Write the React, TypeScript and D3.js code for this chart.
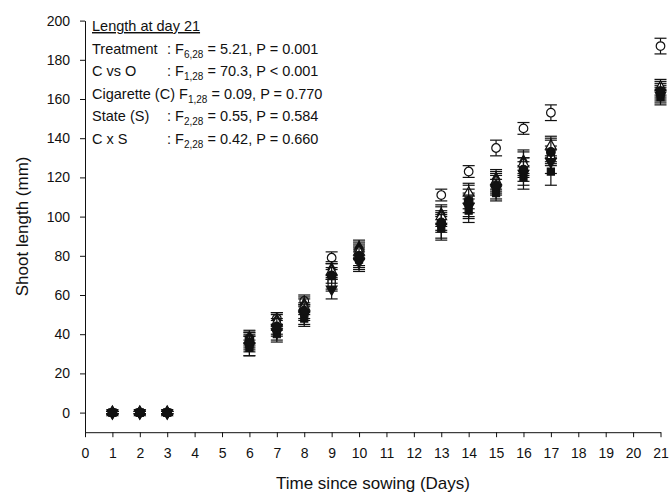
import React from "react";
import * as d3 from "d3";

const width = 670;
const height = 498;

// days on which shoot length was measured
const days = [1, 2, 3, 6, 7, 8, 9, 10, 13, 14, 15, 16, 17, 21];

// mean shoot length (mm) per treatment
const controlMean = [0, 0, 0, 38, 48, 57, 79, 83, 111, 123, 135, 145, 153, 187];
const controlSE = [0.6, 0.6, 0.6, 3, 3, 3, 3, 4, 3, 3, 4, 3, 4, 4];
const t1Mean = [0, 0, 0, 36, 44, 52, 70, 80, 97, 108, 116, 124, 133, 164];
const t1SE = [0.6, 0.6, 0.6, 4, 4, 4, 4, 5, 5, 6, 5, 6, 6, 4];
const t2Mean = [0, 0, 0, 34, 41, 50, 63, 77, 95, 105, 114, 122, 128, 162];
const t2SE = [0.6, 0.6, 0.6, 5, 4, 5, 5, 5, 6, 6, 5, 6, 6, 4];
const t3Mean = [0, 0, 0, 37, 46, 54, 72, 82, 100, 112, 118, 127, 136, 166];
const t3SE = [0.6, 0.6, 0.6, 4, 4, 4, 4, 4, 5, 5, 5, 6, 5, 4];
const t4Mean = [0, 0, 0, 33, 40, 48, 68, 78, 94, 103, 112, 120, 123, 161];
const t4SE = [0.6, 0.6, 0.6, 4, 4, 4, 5, 5, 6, 6, 4, 6, 7, 4];
const t5Mean = [0, 0, 0, 35, 43, 51, 66, 79, 98, 110, 117, 125, 131, 163];
const t5SE = [0.6, 0.6, 0.6, 4, 4, 4, 4, 5, 5, 6, 5, 5, 5, 4];
const t6Mean = [0, 0, 0, 38, 47, 55, 73, 84, 101, 106, 119, 128, 134, 165];
const t6SE = [0.6, 0.6, 0.6, 4, 4, 4, 4, 4, 5, 6, 5, 6, 6, 4];

const xTicks = d3.range(0, 22);
const yTicks = [0, 20, 40, 60, 80, 100, 120, 140, 160, 180, 200];

const statsLabels = ["Treatment", "C vs O", "Cigarette (C)", "State (S)", "C x S"];
const statsDf = ["6,28", "1,28", "1,28", "2,28", "2,28"];
const statsRest = [
  " = 5.21, P = 0.001",
  " = 70.3, P < 0.001",
  " = 0.09, P = 0.770",
  " = 0.55, P = 0.584",
  " = 0.42, P = 0.660",
];

// control drawn first, so the cigarette treatments sit on top where they overlap
const series = [
  { mean: controlMean, se: controlSE, shape: d3.symbolCircle, filled: false, rot: 0 },
  { mean: t4Mean, se: t4SE, shape: d3.symbolSquare, filled: true, rot: 0 },
  { mean: t5Mean, se: t5SE, shape: d3.symbolSquare, filled: false, rot: 0 },
  { mean: t6Mean, se: t6SE, shape: d3.symbolDiamond, filled: true, rot: 0 },
  { mean: t3Mean, se: t3SE, shape: d3.symbolTriangle, filled: false, rot: 0 },
  { mean: t2Mean, se: t2SE, shape: d3.symbolTriangle, filled: true, rot: 180 },
  { mean: t1Mean, se: t1SE, shape: d3.symbolCircle, filled: true, rot: 0 },
];

const x = d3.scaleLinear().domain([0, 21]).range([85, 660.5]);
const y = d3.scaleLinear().domain([-10, 200]).range([432.2, 20.6]);

const font = "'Liberation Sans', Arial, sans-serif";

export default function App() {
  const xAxisRef = React.useRef<SVGGElement>(null);
  const yAxisRef = React.useRef<SVGGElement>(null);

  React.useEffect(() => {
    const xa = d3.axisBottom(x).tickValues(xTicks).tickSize(5).tickPadding(11).tickSizeOuter(0);
    const ya = d3.axisLeft(y).tickValues(yTicks).tickSize(5).tickPadding(10).tickSizeOuter(0);
    const gx = d3.select(xAxisRef.current!).call(xa);
    const gy = d3.select(yAxisRef.current!).call(ya);
    [gx, gy].forEach((g) => {
      g.selectAll("text").attr("font-size", 14).attr("font-family", font).attr("fill", "#111");
      g.selectAll("line").attr("stroke", "#111");
      g.select(".domain").attr("stroke", "#111");
    });
  }, []);

  const cap = 6;

  return (
    <svg width={width} height={height} style={{ position: "absolute", left: 0, top: 0 }}>
      <rect width={width} height={height} fill="#fff" />
      <g ref={xAxisRef} transform={`translate(0,${y(-10)})`} />
      <g ref={yAxisRef} transform={`translate(${x(0)},0)`} />

      {series.map((s, si) => (
        <g key={si}>
          {days.map((d, i) => {
            const cx = x(d);
            const lo = y(s.mean[i] - s.se[i]);
            const hi = y(s.mean[i] + s.se[i]);
            return (
              <g key={i} stroke="#111" strokeWidth={1.2}>
                <line x1={cx} x2={cx} y1={lo} y2={hi} />
                <line x1={cx - cap} x2={cx + cap} y1={lo} y2={lo} />
                <line x1={cx - cap} x2={cx + cap} y1={hi} y2={hi} />
              </g>
            );
          })}
          {days.map((d, i) => (
            <path
              key={"m" + i}
              d={d3.symbol().type(s.shape).size(s.shape === d3.symbolCircle ? 58 : 50)()!}
              transform={`translate(${x(d)},${y(s.mean[i])}) rotate(${s.rot})`}
              fill={s.filled ? "#111" : "#fff"}
              stroke="#111"
              strokeWidth={1.2}
            />
          ))}
        </g>
      ))}

      <g fontFamily={font} fontSize={14.5} fill="#111">
        <text x={92} y={31} textDecoration="underline">
          Length at day 21
        </text>
        {statsLabels.map((lab, i) => {
          const by = 54 + i * 22.4;
          const cig = lab.startsWith("Cigarette");
          return (
            <g key={lab}>
              <text x={92} y={by}>
                {cig ? lab + " F" : lab}
                {cig ? (
                  <>
                    <tspan fontSize={10} dy={4}>{statsDf[i]}</tspan>
                    <tspan dy={-4}>{statsRest[i]}</tspan>
                  </>
                ) : null}
              </text>
              {!cig && (
                <text x={167} y={by}>
                  : F
                  <tspan fontSize={10} dy={4}>{statsDf[i]}</tspan>
                  <tspan dy={-4}>{statsRest[i]}</tspan>
                </text>
              )}
            </g>
          );
        })}
      </g>

      <text
        x={373}
        y={489}
        textAnchor="middle"
        fontFamily={font}
        fontSize={17}
        fill="#111"
      >
        Time since sowing (Days)
      </text>
      <text
        transform={`translate(28,${(y(-10) + y(200)) / 2}) rotate(-90)`}
        textAnchor="middle"
        fontFamily={font}
        fontSize={17}
        fill="#111"
      >
        Shoot length (mm)
      </text>
    </svg>
  );
}
